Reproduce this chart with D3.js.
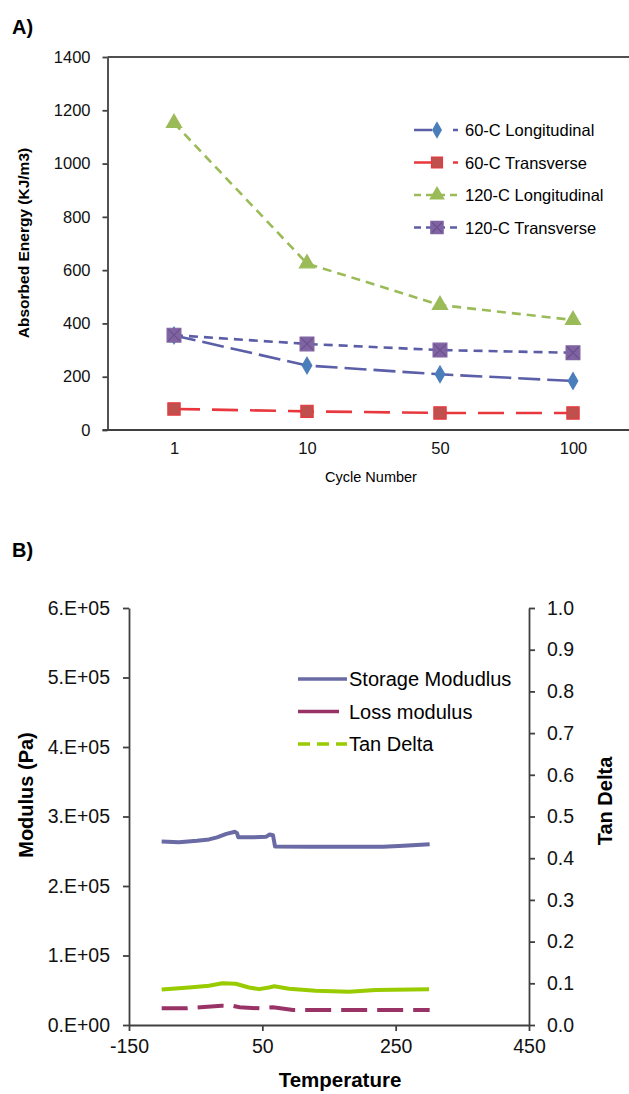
<!DOCTYPE html>
<html>
<head>
<meta charset="utf-8">
<script src="https://cdn.jsdelivr.net/npm/d3@7"></script>
<style>
  body { margin: 0; background: #fff; }
  svg { display: block; font-family: "Liberation Sans", Arial, sans-serif; }
  .axis path, .axis line { stroke: #404040; stroke-width: 1.8; }
  .axis text { fill: #111; }
</style>
</head>
<body>
<svg id="chart"></svg>
<script>
const W = 629, H = 1094;

// ---- chart A data ----
const cycles = ["1", "10", "50", "100"];
const seriesNamesA = ["60-C Longitudinal", "60-C Transverse", "120-C Longitudinal", "120-C Transverse"];
const long60 = [355, 242, 209, 184];
const trans60 = [79, 70, 64, 64];
const long120 = [1152, 625, 469, 413];
const trans120 = [356, 323, 300, 290];
const ticksA = [0, 200, 400, 600, 800, 1000, 1200, 1400];

// ---- chart B data ([temperature, value]) ----
const storage = [[-101, 2.64e5], [-75, 2.63e5], [-48, 2.65e5], [-30, 2.67e5], [-18, 2.70e5], [-4, 2.75e5],
  [9, 2.78e5], [12, 2.76e5], [14, 2.70e5], [35, 2.70e5], [56, 2.71e5], [61, 2.74e5], [66, 2.73e5],
  [69, 2.57e5], [120, 2.565e5], [180, 2.565e5], [231, 2.565e5], [262, 2.58e5], [301, 2.60e5]];
const loss = [[-101, 0.24e5], [-63, 0.24e5], [-43, 0.255e5], [-11, 0.278e5], [6, 0.275e5], [16, 0.255e5],
  [46, 0.24e5], [66, 0.255e5], [96, 0.216e5], [156, 0.216e5], [301, 0.216e5]];
const tanDelta = [[-101, 0.085], [-60, 0.09], [-30, 0.094], [-10, 0.1], [10, 0.099], [30, 0.09], [45, 0.086],
  [60, 0.09], [68, 0.093], [90, 0.087], [130, 0.082], [180, 0.08], [220, 0.084], [300, 0.086]];
const seriesNamesB = ["Storage Modudlus", "Loss modulus", "Tan Delta"];
const ticksBLeft = [0, 1e5, 2e5, 3e5, 4e5, 5e5, 6e5];
const ticksBRight = d3.range(0, 11).map(i => i / 10);
const ticksBx = [-150, 50, 250, 450];

const svg = d3.select("#chart").attr("width", W).attr("height", H).attr("viewBox", [0, 0, W, H]);

// ================= Chart A =================
const a = { left: 107.5, top: 57, bottom: 430 };
const xA = d3.scalePoint().domain(cycles).range([a.left, a.left + 532]).padding(0.5);
const yA = d3.scaleLinear().domain([0, 1400]).range([a.bottom, a.top]);

svg.append("text").attr("x", 12).attr("y", 34).attr("font-size", 20).attr("font-weight", "bold").text("A)");

// top border of plot area
svg.append("line").attr("x1", a.left).attr("x2", W).attr("y1", a.top).attr("y2", a.top)
  .attr("stroke", "#505050").attr("stroke-width", 2);

const yAxisA = svg.append("g").attr("class", "axis").attr("transform", `translate(${a.left},0)`)
  .call(d3.axisLeft(yA).tickValues(ticksA).tickFormat(d => String(d)).tickSize(5).tickSizeOuter(0).tickPadding(12));
yAxisA.selectAll("text").attr("font-size", 16.5);

const xAxisA = svg.append("g").attr("class", "axis").attr("transform", `translate(0,${a.bottom})`)
  .call(d3.axisBottom(xA).tickSize(0).tickPadding(12));
xAxisA.select("path").attr("d", `M${a.left - 5},0H${W + 20}`);
xAxisA.selectAll("text").attr("font-size", 16.5);

svg.append("text").attr("x", 371).attr("y", 482).attr("text-anchor", "middle")
  .attr("font-size", 14.5).text("Cycle Number");

svg.append("text").attr("transform", "translate(29,243) rotate(-90)").attr("text-anchor", "middle")
  .attr("font-size", 15.5).attr("font-weight", "bold").text("Absorbed Energy  (KJ/m3)");

const specsA = [
  { name: seriesNamesA[0], values: long60, line: "#5a5fa8", dash: "22,7", marker: "diamond", fill: "#4a7ebb", stroke: "#4a7ebb", size: 80 },
  { name: seriesNamesA[1], values: trans60, line: "#e8383d", dash: "26,12", marker: "square", fill: "#c0504d", stroke: "#e8383d", size: 150 },
  { name: seriesNamesA[2], values: long120, line: "#9bbb59", dash: "9,6", marker: "triangle", fill: "#9bbb59", stroke: "#9bbb59", size: 100 },
  { name: seriesNamesA[3], values: trans120, line: "#5b5ea6", dash: "9,6", marker: "square", fill: "#8064a2", stroke: "#8064a2", size: 190, cross: true }
];
const symbolType = { diamond: d3.symbolDiamond, square: d3.symbolSquare, triangle: d3.symbolTriangle };

const lineA = d3.line().x((d, i) => xA(cycles[i])).y(d => yA(d));
const gA = svg.append("g");
specsA.forEach(s => {
  gA.append("path").datum(s.values).attr("d", lineA).attr("fill", "none")
    .attr("stroke", s.line).attr("stroke-width", 2.6).attr("stroke-dasharray", s.dash);
});
specsA.forEach(s => {
  const sym = d3.symbol().type(symbolType[s.marker]).size(s.size);
  s.values.forEach((v, i) => {
    const g = gA.append("g").attr("transform", `translate(${xA(cycles[i])},${yA(v)})`);
    g.append("path").attr("d", sym()).attr("fill", s.fill).attr("stroke", s.stroke).attr("stroke-width", 1.2);
    if (s.cross) {
      g.append("path").attr("d", "M-6,-6L6,6M6,-6L-6,6").attr("stroke", "#6a5090").attr("stroke-width", 1.2);
    }
  });
});

// legend A
const legA = svg.append("g");
specsA.forEach((s, i) => {
  const y = 130 + i * 32.5;
  const g = legA.append("g").attr("transform", `translate(0,${y})`);
  g.append("line").attr("x1", 414).attr("x2", i < 2 ? 458 : 462).attr("y1", 0).attr("y2", 0)
    .attr("stroke", s.line).attr("stroke-width", 2.6)
    .attr("stroke-dasharray", i < 2 ? "18,21,5" : "7,5");
  const sym = d3.symbol().type(symbolType[s.marker]).size(s.size * 0.8);
  const m = g.append("g").attr("transform", "translate(437,0)");
  m.append("path").attr("d", sym()).attr("fill", s.fill).attr("stroke", s.stroke).attr("stroke-width", 1.2);
  if (s.cross) m.append("path").attr("d", "M-5,-5L5,5M5,-5L-5,5").attr("stroke", "#6a5090").attr("stroke-width", 1.2);
  g.append("text").attr("x", 465).attr("y", 6).attr("font-size", 16.5).text(s.name);
});

// ================= Chart B =================
const b = { left: 129, right: 529, top: 608, bottom: 1025 };
const xB = d3.scaleLinear().domain([-150, 450]).range([b.left, b.right]);
const yB = d3.scaleLinear().domain([0, 6e5]).range([b.bottom, b.top]);
const yB2 = d3.scaleLinear().domain([0, 1]).range([b.bottom, b.top]);

svg.append("text").attr("x", 12).attr("y", 557).attr("font-size", 20).attr("font-weight", "bold").text("B)");

const expFmt = v => v === 0 ? "0.E+00" : `${v / 1e5}.E+05`;
const yAxisB = svg.append("g").attr("class", "axis").attr("transform", `translate(${b.left},0)`)
  .call(d3.axisLeft(yB).tickValues(ticksBLeft).tickFormat(expFmt).tickSize(6).tickSizeOuter(0).tickPadding(13));
yAxisB.selectAll("text").attr("font-size", 19.5);

const yAxisB2 = svg.append("g").attr("class", "axis").attr("transform", `translate(${b.right},0)`)
  .call(d3.axisRight(yB2).tickValues(ticksBRight).tickFormat(d3.format(".1f")).tickSize(6).tickSizeOuter(0).tickPadding(12));
yAxisB2.selectAll("text").attr("font-size", 19.5);

const xAxisB = svg.append("g").attr("class", "axis").attr("transform", `translate(0,${b.bottom})`)
  .call(d3.axisBottom(xB).tickValues(ticksBx).tickFormat(d => String(d)).tickSize(6).tickSizeOuter(0).tickPadding(8));
xAxisB.selectAll("text").attr("font-size", 19.5);

svg.append("text").attr("x", 340).attr("y", 1087).attr("text-anchor", "middle")
  .attr("font-size", 20.5).attr("font-weight", "bold").text("Temperature");
svg.append("text").attr("transform", "translate(33,795) rotate(-90)").attr("text-anchor", "middle")
  .attr("font-size", 20).attr("font-weight", "bold").text("Modulus (Pa)");
svg.append("text").attr("transform", "translate(612,801) rotate(-90)").attr("text-anchor", "middle")
  .attr("font-size", 20).attr("font-weight", "bold").text("Tan Delta");

const lineB = d3.line().x(d => xB(d[0])).y(d => yB(d[1]));
const lineB2 = d3.line().x(d => xB(d[0])).y(d => yB2(d[1]));
svg.append("path").datum(storage).attr("d", lineB).attr("fill", "none")
  .attr("stroke", "#6a6aa5").attr("stroke-width", 4).attr("stroke-linejoin", "round");
svg.append("path").datum(tanDelta).attr("d", lineB2).attr("fill", "none")
  .attr("stroke", "#99cc00").attr("stroke-width", 4).attr("stroke-linejoin", "round");
svg.append("path").datum(loss).attr("d", lineB).attr("fill", "none")
  .attr("stroke", "#993366").attr("stroke-width", 4).attr("stroke-dasharray", "26,10");

// legend B
const specsB = [
  { name: seriesNamesB[0], color: "#6a6aa5", dash: null, x2: 347 },
  { name: seriesNamesB[1], color: "#993366", dash: null, x2: 339 },
  { name: seriesNamesB[2], color: "#99cc00", dash: "12,7", x2: 347 }
];
specsB.forEach((s, i) => {
  const y = 679 + i * 32.5;
  svg.append("line").attr("x1", 298).attr("x2", s.x2).attr("y1", y).attr("y2", y)
    .attr("stroke", s.color).attr("stroke-width", 3.5).attr("stroke-dasharray", s.dash);
  svg.append("text").attr("x", 349).attr("y", y + 7).attr("font-size", 20).text(s.name);
});
</script>
</body>
</html>
